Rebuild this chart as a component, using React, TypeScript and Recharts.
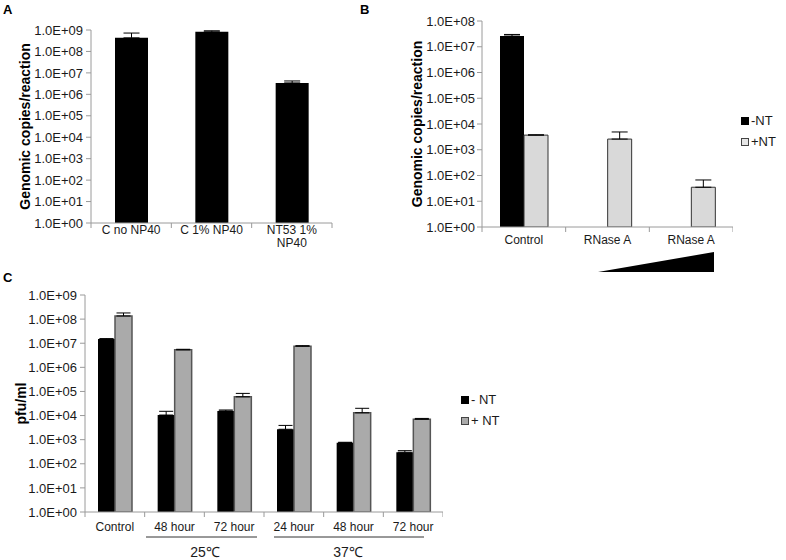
import React from "react";
import { BarChart, Bar, XAxis, YAxis, ErrorBar, Label } from "recharts";

const FONT = "'Liberation Sans', Arial, Helvetica, sans-serif";
const AXIS = "#9a9a9a";
const INK = "#1a1a1a";

// Panel A: genomic copies per reaction
const aCategories = ["C no NP40", "C 1% NP40", "NT53 1% NP40"];
const aCopies = [4.3e8, 8.2e8, 3.4e6];
const aCopiesErr = [2.9e8, 1.0e8, 0.8e6];
const aTicks = [1, 1e1, 1e2, 1e3, 1e4, 1e5, 1e6, 1e7, 1e8, 1e9];

// Panel B: RNase A treatment
const bCategories = ["Control", "RNase A", "RNase A"];
const bMinusNT = [2.6e7, null, null];
const bMinusNTErr = [0.4e7, null, null];
const bPlusNT = [3.7e3, 2.6e3, 35];
const bPlusNTErr = [0.1e3, 2.3e3, 32];
const bTicks = [1, 1e1, 1e2, 1e3, 1e4, 1e5, 1e6, 1e7, 1e8];

// Panel C: pfu/ml over time at two temperatures
const cCategories = ["Control", "48 hour", "72 hour", "24 hour", "48 hour", "72 hour"];
const cMinusNT = [1.5e7, 1.05e4, 1.55e4, 2.7e3, 7.5e2, 3.0e2];
const cMinusNTErr = [0.05e7, 0.45e4, 0.15e4, 1.2e3, 0.3e2, 0.5e2];
const cPlusNT = [1.35e8, 5.3e6, 6.0e4, 7.5e6, 1.3e4, 7.0e3];
const cPlusNTErr = [0.45e8, 0.3e6, 2.3e4, 0.4e6, 0.7e4, 0.6e3];
const cTicks = [1, 1e1, 1e2, 1e3, 1e4, 1e5, 1e6, 1e7, 1e8, 1e9];
const cGroups = ["25℃", "37℃"];

const sci = (v: number) => {
  const e = Math.round(Math.log10(v));
  return "1.0E+" + String(e).padStart(2, "0");
};

const errKey = (k: string) => (d: any) => (d[k] == null ? null : [0, d[k]]);

// long labels break at the last space, like Excel does in a narrow slot
const splitLabel = (s: string, maxChars: number) => {
  if (s.length <= maxChars) return [s];
  const cut = s.lastIndexOf(" ");
  return cut > 0 ? [s.slice(0, cut), s.slice(cut + 1)] : [s];
};

// category ticks with Excel-style tick marks between the categories
function makeCategoryTick(offsetY: number, count: number, maxChars: number) {
  return (props: any) => {
    const { x, y, payload } = props;
    const half = payload.offset || 0;
    const axisY = y - offsetY;
    const lines = splitLabel(String(payload.value), maxChars);
    return (
      <g>
        <line x1={x - half} x2={x - half} y1={axisY} y2={axisY + 5} stroke={AXIS} />
        {payload.index === count - 1 && (
          <line x1={x + half} x2={x + half} y1={axisY} y2={axisY + 5} stroke={AXIS} />
        )}
        <text x={x} y={y} textAnchor="middle" fontSize={12} fontFamily={FONT} fill={INK}>
          {lines.map((l, i) => (
            <tspan key={i} x={x} dy={i === 0 ? "0.71em" : "1.1em"}>
              {l}
            </tspan>
          ))}
        </text>
      </g>
    );
  };
}

const yTickStyle = { fontSize: 13, fill: INK, fontFamily: FONT };
const titleStyle = { textAnchor: "middle" as const, fontWeight: "bold", fontSize: 14, fill: "#000", fontFamily: FONT };

const abs = (left: number, top: number): React.CSSProperties => ({ position: "absolute", left, top });

export default function App() {
  const aData = aCategories.map((name, i) => ({ name, copies: aCopies[i], copiesErr: aCopiesErr[i] }));
  const bData = bCategories.map((name, i) => ({
    name,
    minus: bMinusNT[i],
    minusErr: bMinusNTErr[i],
    plus: bPlusNT[i],
    plusErr: bPlusNTErr[i],
  }));
  const cData = cCategories.map((name, i) => ({
    name,
    minus: cMinusNT[i],
    minusErr: cMinusNTErr[i],
    plus: cPlusNT[i],
    plusErr: cPlusNTErr[i],
  }));

  const letter: React.CSSProperties = { fontFamily: FONT, fontWeight: "bold", fontSize: 13, lineHeight: "14px" };
  const legendText: React.CSSProperties = { fontFamily: FONT, fontSize: 13, color: INK, lineHeight: "14px", whiteSpace: "nowrap" };
  const sq = (fill: string, border: string): React.CSSProperties => ({
    display: "inline-block",
    width: 6,
    height: 6,
    background: fill,
    border: `1px solid ${border}`,
    marginRight: 2,
    verticalAlign: "middle",
    position: "relative",
    top: -1,
  });

  return (
    <div style={{ position: "absolute", left: 0, top: 0, width: 786, height: 560, background: "#fff" }}>
      <div style={{ ...abs(3, 3), ...letter }}>A</div>
      <div style={{ ...abs(360, 3), ...letter }}>B</div>
      <div style={{ ...abs(3, 271), ...letter }}>C</div>

      {/* Panel A */}
      <div style={abs(0, 0)}>
        <BarChart width={345} height={290} data={aData} margin={{ top: 30, right: 13, left: 0, bottom: 37 }}>
          <XAxis
            dataKey="name"
            height={30}
            interval={0}
            axisLine={{ stroke: AXIS }}
            tickLine={false}
            tickSize={1}
            tickMargin={1}
            tick={makeCategoryTick(2, aCategories.length, 10)}
          />
          <YAxis
            scale="log"
            domain={[1, 1e9]}
            ticks={aTicks}
            allowDataOverflow
            interval={0}
            width={91}
            tickFormatter={sci}
            tick={yTickStyle}
            axisLine={{ stroke: AXIS }}
            tickLine={{ stroke: AXIS }}
            tickSize={5}
            tickMargin={3}
          >
            <Label value="Genomic copies/reaction" angle={-90} position="insideLeft" offset={25} style={titleStyle} />
          </YAxis>
          <Bar dataKey="copies" fill="#000" barSize={33} isAnimationActive={false}>
            <ErrorBar dataKey={errKey("copiesErr")} direction="y" width={8} stroke="#000" strokeWidth={1} />
          </Bar>
        </BarChart>
      </div>

      {/* Panel B */}
      <div style={abs(390, 0)}>
        <BarChart width={343} height={290} data={bData} barGap={0} margin={{ top: 21, right: 0, left: 0, bottom: 33 }}>
          <XAxis
            dataKey="name"
            height={30}
            interval={0}
            axisLine={{ stroke: AXIS }}
            tickLine={false}
            tickSize={5}
            tickMargin={3}
            tick={makeCategoryTick(8, bCategories.length, 20)}
          />
          <YAxis
            scale="log"
            domain={[1, 1e8]}
            ticks={bTicks}
            allowDataOverflow
            interval={0}
            width={92}
            tickFormatter={sci}
            tick={yTickStyle}
            axisLine={{ stroke: AXIS }}
            tickLine={{ stroke: AXIS }}
            tickSize={5}
            tickMargin={2}
          >
            <Label value="Genomic copies/reaction" angle={-90} position="insideLeft" offset={27} style={titleStyle} />
          </YAxis>
          <Bar dataKey="minus" name="-NT" fill="#000" barSize={24} isAnimationActive={false}>
            <ErrorBar dataKey={errKey("minusErr")} direction="y" width={8} stroke="#000" strokeWidth={1} />
          </Bar>
          <Bar dataKey="plus" name="+NT" fill="#d9d9d9" stroke="#333" strokeWidth={1} barSize={24} isAnimationActive={false}>
            <ErrorBar dataKey={errKey("plusErr")} direction="y" width={8} stroke="#000" strokeWidth={1} />
          </Bar>
        </BarChart>
      </div>
      <div style={{ ...abs(741, 114), ...legendText }}>
        <span style={sq("#000", "#000")} />-NT
      </div>
      <div style={{ ...abs(741, 135), ...legendText }}>
        <span style={sq("#e6e6e6", "#444")} />+NT
      </div>
      <svg style={abs(0, 0)} width={786} height={290} pointerEvents="none">
        <polygon points="598,272 714,252 714,272" fill="#000" />
      </svg>

      {/* Panel C */}
      <div style={abs(0, 280)}>
        <BarChart width={443} height={260} data={cData} barGap={0} margin={{ top: 15, right: 0, left: 0, bottom: 4 }}>
          <XAxis
            dataKey="name"
            height={24}
            interval={0}
            axisLine={{ stroke: AXIS }}
            tickLine={false}
            tickSize={5}
            tickMargin={5}
            tick={makeCategoryTick(10, cCategories.length, 20)}
          />
          <YAxis
            scale="log"
            domain={[1, 1e9]}
            ticks={cTicks}
            allowDataOverflow
            interval={0}
            width={85}
            tickFormatter={sci}
            tick={yTickStyle}
            axisLine={{ stroke: AXIS }}
            tickLine={{ stroke: AXIS }}
            tickSize={5}
            tickMargin={3}
          >
            <Label value="pfu/ml" angle={-90} position="insideLeft" offset={21} style={titleStyle} />
          </YAxis>
          <Bar dataKey="minus" name="- NT" fill="#000" barSize={17} isAnimationActive={false}>
            <ErrorBar dataKey={errKey("minusErr")} direction="y" width={7} stroke="#000" strokeWidth={1} />
          </Bar>
          <Bar dataKey="plus" name="+ NT" fill="#aaaaaa" stroke="#555" strokeWidth={1.5} barSize={17} isAnimationActive={false}>
            <ErrorBar dataKey={errKey("plusErr")} direction="y" width={7} stroke="#000" strokeWidth={1} />
          </Bar>
        </BarChart>
      </div>
      <div style={{ ...abs(461, 393), ...legendText }}>
        <span style={sq("#000", "#000")} />- NT
      </div>
      <div style={{ ...abs(461, 414), ...legendText }}>
        <span style={sq("#aaaaaa", "#444")} />+ NT
      </div>
      <svg style={abs(0, 520)} width={460} height={40}>
        <line x1={146} x2={257} y1={17} y2={17} stroke="#333" />
        <line x1={274} x2={424} y1={17} y2={17} stroke="#333" />
        <text x={205} y={37} textAnchor="middle" fontSize={14} fontFamily={FONT} fill={INK}>
          {cGroups[0]}
        </text>
        <text x={348} y={37} textAnchor="middle" fontSize={14} fontFamily={FONT} fill={INK}>
          {cGroups[1]}
        </text>
      </svg>
    </div>
  );
}
